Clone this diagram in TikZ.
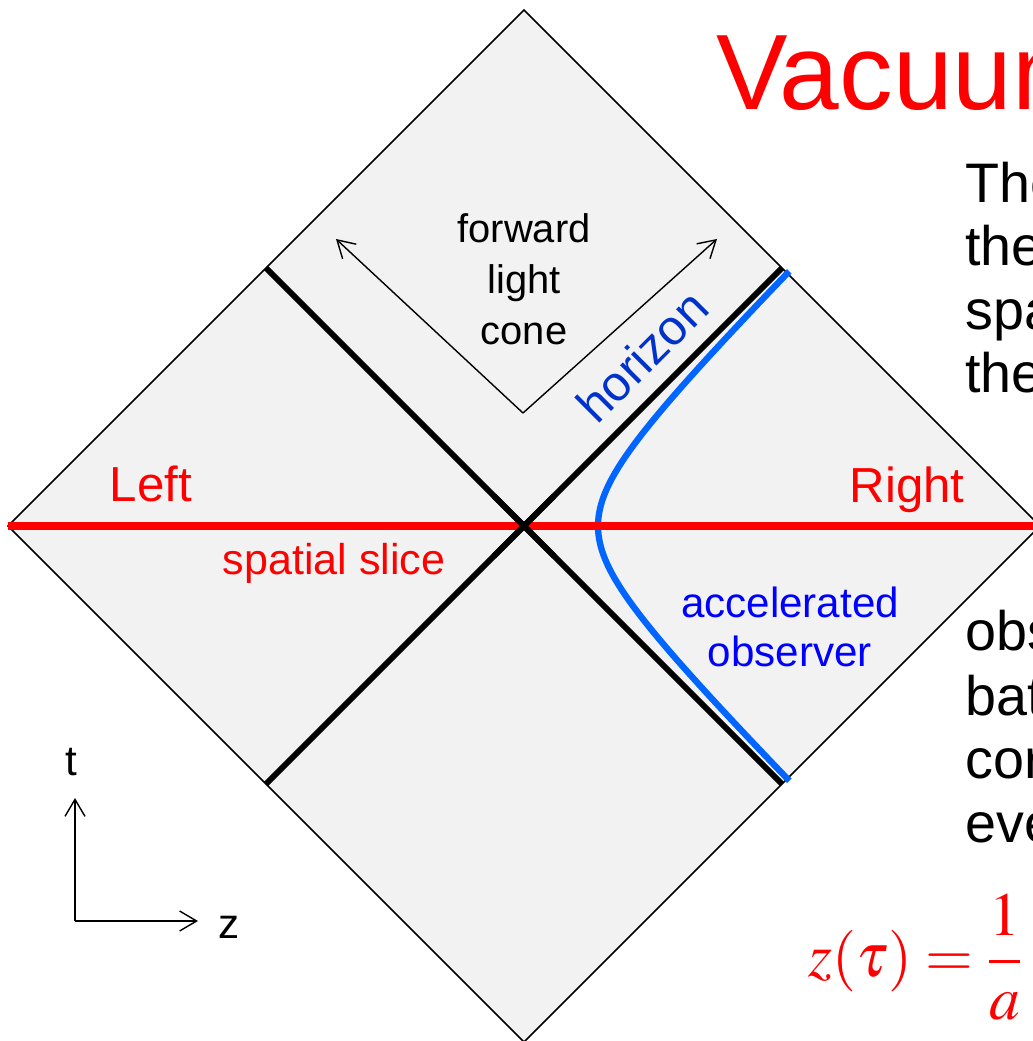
\documentclass[tikz,border=0pt]{standalone}
\usepackage{mathptmx}
\usepackage{fontspec}
\setmainfont{Liberation Sans}
\usetikzlibrary{arrows.meta}
\definecolor{myred}{RGB}{255,0,0}
\definecolor{myblue}{RGB}{0,0,255}
\definecolor{hyperblue}{RGB}{0,102,255}
\definecolor{horizonblue}{RGB}{0,51,204}
\definecolor{conegray}{RGB}{242,242,242}

\begin{document}
\begin{tikzpicture}[x=0.02cm, y=0.02cm,
  thinarrow/.style={line width=0.8pt, -{Straight Barb[length=3.4mm,width=4mm]}},
  lightray/.style={line width=3.4pt},
  lbl/.style={inner sep=0pt, align=center},
  bodytext/.style={inner sep=0pt, anchor=base west, font=\fontsize{31.7}{36}\selectfont}]
  \useasboundingbox (-524,-515) rectangle (509,526);
  \clip (-524,-515) rectangle (509,526);
  % diamond
  \coordinate (top) at (0,516);
  \coordinate (left) at (-516,0);
  \coordinate (right) at (516,0);
  \coordinate (bottom) at (0,-516);
  \fill[conegray] (top) -- (right) -- (bottom) -- (left) -- cycle;
  \draw[line width=0.85pt] (top) -- (right) -- (bottom) -- (left) -- cycle;
  % light rays
  \coordinate (tl) at (-258,258);
  \coordinate (tr) at (258,258);
  \coordinate (bl) at (-258,-258);
  \coordinate (br) at (258,-258);
  \draw[lightray] (tl) -- (br);
  \draw[lightray] (bl) -- (tr);
  % observer
  \draw[hyperblue, line width=3.6pt, domain=-1.95:1.95, samples=80, smooth]
    plot ({74*cosh(\x)}, {74*sinh(\x)});
  \draw[myred, line width=4pt] (left) -- (right);
  \draw[lightray] (-30,30) -- (30,-30);
  \draw[lightray] (-30,-30) -- (30,30);
  % forward light cone
  \coordinate (apex) at (-1,113);
  \coordinate (fl) at (-188,287);
  \coordinate (fr) at (193,287);
  \draw[thinarrow] (apex) -- (fl);
  \draw[thinarrow] (apex) -- (fr);
  \node[lbl, font=\fontsize{22.7}{29}\selectfont] (cone) at (0,247) {forward\\light\\cone};
  \node[lbl, font=\fontsize{28}{32}\selectfont, text=horizonblue, rotate=45] (horizon) at (118,170) {horizon};
  \node[lbl, font=\fontsize{28}{32}\selectfont, text=myred] (leftlbl) at (-373,42) {Left};
  \node[lbl, font=\fontsize{28}{32}\selectfont, text=myred] (rightlbl) at (383,36) {Right};
  \node[lbl, font=\fontsize{24.5}{28}\selectfont, text=myred] (slice) at (-190,-37) {spatial slice};
  \node[lbl, font=\fontsize{24}{28.3}\selectfont, text=myblue] (observer) at (266,-101) {accelerated\\observer};
  % axes
  \coordinate (origin) at (-449,-395);
  \coordinate (ttip) at (-449,-272);
  \coordinate (ztip) at (-326,-395);
  \draw[thinarrow] (origin) -- (ttip);
  \draw[thinarrow] (origin) -- (ztip);
  \node[lbl, font=\fontsize{24}{28}\selectfont] (tlbl) at (-453,-236) {t};
  \node[lbl, font=\fontsize{24}{28}\selectfont] (zlbl) at (-295,-401) {z};
  % slide text
  \node[inner sep=0pt, anchor=base west, font=\fontsize{61}{70}\selectfont, text=myred] (title) at (192,416) {Vacuum};
  \foreach \w/\y [count=\i] in {The/323, the/260, spa/196, the/133}
    \node[bodytext] (upper\i) at (441,\y) {\w};
  \foreach \w/\y [count=\i] in {obs/-124, bat/-189, cor/-252, eve/-316}
    \node[bodytext] (lower\i) at (441,\y) {\w};
  \node[inner sep=0pt, anchor=west, text=myred, font=\fontsize{35}{40}\selectfont] (formula) at (284,-431) {$\displaystyle z(\tau)=\frac{1}{a}$};
\end{tikzpicture}
\end{document}
